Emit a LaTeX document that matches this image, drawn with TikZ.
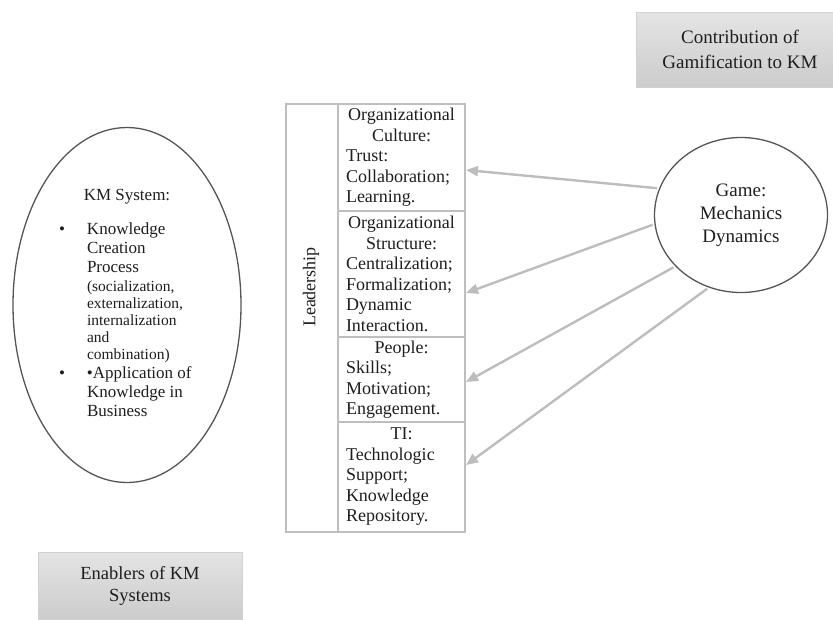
\documentclass[tikz,border=0pt]{standalone}
\usepackage{fontspec}
\setmainfont{Liberation Serif}
\usetikzlibrary{arrows.meta,shapes.geometric}
\definecolor{ink}{HTML}{1E1E1E}
\definecolor{rim}{HTML}{555555}
\definecolor{grid}{HTML}{BEBEBE}
\definecolor{wire}{HTML}{BDBDBD}
\definecolor{paneltop}{HTML}{E4E4E4}
\definecolor{panelbot}{HTML}{CCCCCC}
\newcommand{\centred}[1]{\makebox[\hsize][c]{#1}}
\tikzset{
  oval/.style={ellipse, draw=rim, line width=1.3pt, inner sep=0pt, text=ink},
  cell/.style={rectangle, draw=grid, line width=1.4pt, inner xsep=8pt, inner ysep=0pt,
    text width=111pt, minimum height=#1, align=left, text=ink,
    font=\fontsize{18}{20.5}\selectfont},
  frame/.style={draw=grid, line width=1.4pt},
  panel/.style={rectangle, top color=paneltop, bottom color=panelbot, draw=grid!70,
    line width=0.6pt, align=center, text=ink},
  link/.style={draw=wire, line width=2.4pt, shorten <=2pt,
    -{Triangle[length=12pt,width=10pt]}},
}
\begin{document}
\begin{tikzpicture}[x=1pt,y=-1pt]
  \useasboundingbox (0,0) rectangle (833,619);

  % title panels
  \node[panel, minimum width=208pt, minimum height=75pt,
    font=\fontsize{19}{25}\selectfont] (contrib) at (740,49.5)
    {Contribution of\\Gamification to KM};
  \node[panel, minimum width=204pt, minimum height=67pt,
    font=\fontsize{18.5}{22}\selectfont] (enab) at (140,585.5)
    {Enablers of KM\\Systems};

  % KM system
  \node[oval, minimum width=228pt, minimum height=355pt,
    font=\fontsize{17}{19}\selectfont] (kms) at (127,305) {%
    \begin{tabular}{@{}p{30pt}@{}p{110pt}@{}}
      \multicolumn{2}{@{}c@{}}{KM System:}\\[15pt]
      \hspace{2pt}\textbullet & Knowledge\\
      & Creation\\
      & Process\\
      & {\fontsize{15.5}{17}\selectfont (socialization,}\\[-2pt]
      & {\fontsize{15.5}{17}\selectfont externalization,}\\[-2pt]
      & {\fontsize{15.5}{17}\selectfont internalization}\\[-2pt]
      & {\fontsize{15.5}{17}\selectfont and}\\[-2pt]
      & {\fontsize{15.5}{17}\selectfont combination)}\\
      \hspace{2pt}\textbullet & •Application of\\
      & Knowledge in\\
      & Business
    \end{tabular}};

  % enablers table
  \draw[frame] (286,104) rectangle (338,532);
  \node[rotate=90, text=ink, font=\fontsize{18}{20}\selectfont] (lead) at (311,287) {Leadership};
  \node[cell=107pt] (cult) at (401.5,157.5)
    {\centred{Organizational}\\\centred{Culture:}\\Trust:\\Collaboration;\\Learning.};
  \node[cell=126pt] (struc) at (401.5,274)
    {\centred{Organizational}\\\centred{Structure:}\\Centralization;\\Formalization;\\Dynamic\\Interaction.};
  \node[cell=85pt] (peop) at (401.5,379.5)
    {\centred{People:}\\Skills;\\Motivation;\\Engagement.};
  \node[cell=110pt] (tech) at (401.5,477)
    {\centred{TI:}\\Technologic\\Support;\\Knowledge\\Repository.};

  % gamification
  \node[oval, minimum width=173pt, minimum height=155pt, align=center,
    font=\fontsize{19}{23}\selectfont] (game) at (741,215)
    {Game:\\Mechanics\\Dynamics};

  \coordinate (t1) at (466,170);
  \coordinate (t2) at (466,293);
  \coordinate (t3) at (466,382);
  \coordinate (t4) at (466,465);
  \draw[link] (game.162) -- (t1);
  \draw[link] (game.186) -- (t2);
  \draw[link] (game.218) -- (t3);
  \draw[link] (game.246) -- (t4);
\end{tikzpicture}
\end{document}
